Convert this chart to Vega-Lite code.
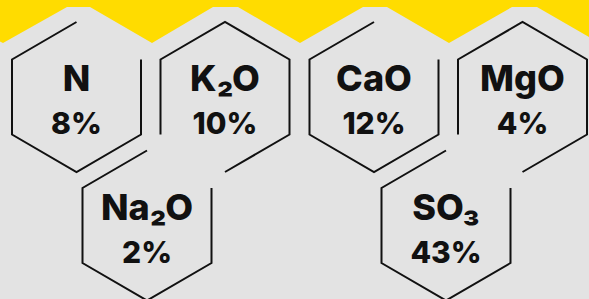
{
  "$schema": "https://vega.github.io/schema/vega-lite/v6.json",
  "width": 589,
  "height": 299,
  "padding": 0,
  "autosize": "none",
  "background": "#e3e3e3",
  "config": {"view": {"stroke": null}},
  "datasets": {
    "band": [
      {"x": 0, "y": 41.5}, {"x": 3, "y": 43}, {"x": 67, "y": 7}, {"x": 90, "y": 7},
      {"x": 152, "y": 43}, {"x": 213, "y": 7}, {"x": 238, "y": 7}, {"x": 300, "y": 43},
      {"x": 363, "y": 7}, {"x": 387, "y": 7}, {"x": 449, "y": 43}, {"x": 512, "y": 7},
      {"x": 537, "y": 7}, {"x": 589, "y": 37}
    ],
    "edges": [
      {"seg": "N", "i": 0, "x": 76.5, "y": 22}, {"seg": "N", "i": 1, "x": 12, "y": 59.5}, {"seg": "N", "i": 2, "x": 12, "y": 134.5},
      {"seg": "N", "i": 3, "x": 76.5, "y": 172}, {"seg": "N", "i": 4, "x": 141, "y": 134.5}, {"seg": "N", "i": 5, "x": 141, "y": 59.5},
      {"seg": "K2O", "i": 0, "x": 225, "y": 172}, {"seg": "K2O", "i": 1, "x": 289.5, "y": 134.5}, {"seg": "K2O", "i": 2, "x": 289.5, "y": 59.5},
      {"seg": "K2O", "i": 3, "x": 225, "y": 22}, {"seg": "K2O", "i": 4, "x": 160.5, "y": 59.5}, {"seg": "K2O", "i": 5, "x": 160.5, "y": 134.5},
      {"seg": "CaO", "i": 0, "x": 374, "y": 22}, {"seg": "CaO", "i": 1, "x": 309.5, "y": 59.5}, {"seg": "CaO", "i": 2, "x": 309.5, "y": 134.5},
      {"seg": "CaO", "i": 3, "x": 374, "y": 172}, {"seg": "CaO", "i": 4, "x": 438.5, "y": 134.5}, {"seg": "CaO", "i": 5, "x": 438.5, "y": 59.5},
      {"seg": "MgO", "i": 0, "x": 522.5, "y": 172}, {"seg": "MgO", "i": 1, "x": 587, "y": 134.5}, {"seg": "MgO", "i": 2, "x": 587, "y": 59.5},
      {"seg": "MgO", "i": 3, "x": 522.5, "y": 22}, {"seg": "MgO", "i": 4, "x": 458, "y": 59.5}, {"seg": "MgO", "i": 5, "x": 458, "y": 134.5},
      {"seg": "Na2O", "i": 0, "x": 147, "y": 150.5}, {"seg": "Na2O", "i": 1, "x": 82.5, "y": 188}, {"seg": "Na2O", "i": 2, "x": 82.5, "y": 263},
      {"seg": "Na2O", "i": 3, "x": 147, "y": 300.5}, {"seg": "Na2O", "i": 4, "x": 211.5, "y": 263}, {"seg": "Na2O", "i": 5, "x": 211.5, "y": 188},
      {"seg": "SO3", "i": 0, "x": 446, "y": 150.5}, {"seg": "SO3", "i": 1, "x": 381.5, "y": 188}, {"seg": "SO3", "i": 2, "x": 381.5, "y": 263},
      {"seg": "SO3", "i": 3, "x": 446, "y": 300.5}, {"seg": "SO3", "i": 4, "x": 510.5, "y": 263}, {"seg": "SO3", "i": 5, "x": 510.5, "y": 188}
    ],
    "labels": [
      {"label": "N", "pct": "8%", "x": 76.5, "y": 97},
      {"label": "K₂O", "pct": "10%", "x": 225, "y": 97},
      {"label": "CaO", "pct": "12%", "x": 374, "y": 97},
      {"label": "MgO", "pct": "4%", "x": 522.5, "y": 97},
      {"label": "Na₂O", "pct": "2%", "x": 147, "y": 225.5},
      {"label": "SO₃", "pct": "43%", "x": 446, "y": 225.5}
    ]
  },
  "encoding": {
    "x": {"field": "x", "type": "quantitative", "scale": {"domain": [0, 589], "nice": false, "zero": false}, "axis": null},
    "y": {"field": "y", "type": "quantitative", "scale": {"domain": [0, 299], "reverse": true, "nice": false, "zero": false}, "axis": null}
  },
  "layer": [
    {
      "data": {"name": "band"},
      "mark": {"type": "area", "color": "#ffdc00"},
      "encoding": {"y2": {"datum": 0}}
    },
    {
      "data": {"name": "edges"},
      "mark": {"type": "line", "color": "#111111", "strokeWidth": 2, "strokeJoin": "miter", "strokeCap": "butt"},
      "encoding": {
        "detail": {"field": "seg"},
        "order": {"field": "i", "type": "quantitative"}
      }
    },
    {
      "data": {"name": "labels"},
      "mark": {"type": "text", "font": "Inter", "fontWeight": 800, "fontSize": 36, "color": "#111111", "align": "center", "baseline": "alphabetic", "dy": -6},
      "encoding": {"text": {"field": "label"}}
    },
    {
      "data": {"name": "labels"},
      "mark": {"type": "text", "font": "Inter", "fontWeight": 800, "fontSize": 30, "color": "#111111", "align": "center", "baseline": "alphabetic", "dy": 37},
      "encoding": {"text": {"field": "pct"}}
    }
  ]
}
